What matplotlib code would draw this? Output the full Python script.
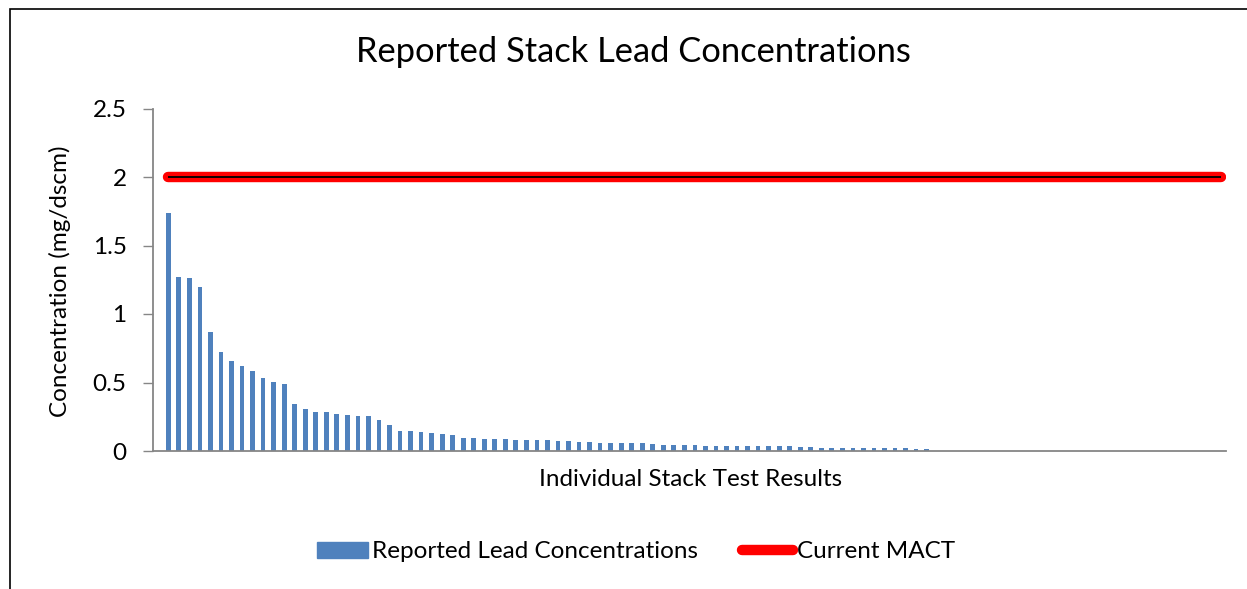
import matplotlib
matplotlib.use("Agg")
import matplotlib.pyplot as plt
from matplotlib.patches import Rectangle
from matplotlib.lines import Line2D

plt.rcParams['font.family'] = ['Lato', 'DejaVu Sans']

# ---- data ----
n_categories = 101
lead_values = [1.735, 1.272, 1.263, 1.195, 0.871, 0.725, 0.655, 0.618, 0.586, 0.533,
               0.506, 0.489, 0.343, 0.309, 0.287, 0.287, 0.272, 0.263, 0.258, 0.258,
               0.229, 0.187, 0.146, 0.146, 0.139, 0.134, 0.124, 0.114, 0.092, 0.092,
               0.088, 0.088, 0.088, 0.080, 0.078, 0.078, 0.078, 0.073, 0.073, 0.068,
               0.066, 0.061, 0.056, 0.056, 0.056, 0.056, 0.051, 0.046, 0.044, 0.044,
               0.044, 0.039, 0.039, 0.034, 0.034, 0.034, 0.034, 0.034, 0.034, 0.034,
               0.029, 0.029, 0.024, 0.024, 0.024, 0.024, 0.024, 0.024, 0.020, 0.020,
               0.020, 0.012, 0.012]
mact_value = 2.0
mact_line = [mact_value] * n_categories
y_ticks = [0, 0.5, 1, 1.5, 2, 2.5]
y_tick_labels = ['0', '0.5', '1', '1.5', '2', '2.5']

title = 'Reported Stack Lead Concentrations'
y_label = 'Concentration (mg/dscm)'
x_label = 'Individual Stack Test Results'
bar_label = 'Reported Lead Concentrations'
line_label = 'Current MACT'

W, H = 1247, 589
fig = plt.figure(figsize=(W / 100, H / 100), dpi=100)

# outer chart frame (cropped chart: left and top edges visible)
fig.add_artist(Rectangle((9.5 / W, -0.1), 1.2, (H - 9.5) / H + 0.1, transform=fig.transFigure,
                         fill=False, edgecolor='black', linewidth=1.2))

left, right, top, bottom = 153 / W, 1226 / W, 108.5 / H, 451 / H
ax = fig.add_axes([left, 1 - bottom, right - left, bottom - top])

bar_color = '#4F81BD'
xs = list(range(len(lead_values)))
ax.bar(xs, lead_values, width=0.45, color=bar_color, label=bar_label)

lx = list(range(n_categories))
ax.plot(lx, mact_line, color='#FF0000', linewidth=7.5, solid_capstyle='round', label=line_label)
ax.plot(lx, mact_line, color='black', linewidth=1.3, solid_capstyle='butt')

spacing = (1221.5 - 168.3) / (n_categories - 1)
ax.set_xlim(-(168.3 - 153) / spacing, (n_categories - 1) + (1226 - 1221.5) / spacing)
ax.set_ylim(0, 2.5)

fs = 17.5
ax.set_yticks(y_ticks)
ax.set_yticklabels(y_tick_labels, fontsize=fs)
ax.set_xticks([])
for s in ['top', 'right']:
    ax.spines[s].set_visible(False)
for s in ['left', 'bottom']:
    ax.spines[s].set_color('#868686')
    ax.spines[s].set_linewidth(1.3)
ax.tick_params(axis='y', direction='out', length=7, width=1.0, color='#868686', pad=12)

fig.text(633 / W, 1 - 52 / H, title, ha='center', va='center', fontsize=24.8)
fig.text(60 / W, 1 - 281 / H, y_label, ha='center', va='center', rotation=90, fontsize=fs)
fig.text(691 / W, 1 - 480 / H, x_label, ha='center', va='center', fontsize=fs)

handles = [Rectangle((0, 0), 1, 1, color=bar_color),
           Line2D([0], [0], color='#FF0000', linewidth=7.5, solid_capstyle='round')]
fig.legend(handles, [bar_label, line_label], loc='center', bbox_to_anchor=(636 / W, 1 - 552 / H),
           ncol=2, frameon=False, fontsize=fs, handlelength=2.1, handletextpad=0.17,
           columnspacing=1.8, handleheight=0.6)

fig.savefig('out.png', dpi=100)
